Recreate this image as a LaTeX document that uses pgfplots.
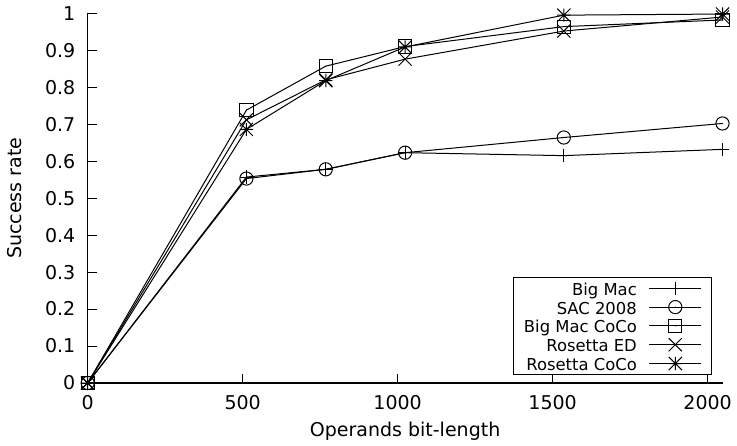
\documentclass[border=0pt]{standalone}
\usepackage{fontspec}
\setmainfont{DejaVu Sans}
\usepackage{pgfplots}
\pgfplotsset{compat=1.18}
\pgfdeclareplotmark{gpplus}{%
  \pgfpathmoveto{\pgfqpoint{-\pgfplotmarksize}{0pt}}\pgfpathlineto{\pgfqpoint{\pgfplotmarksize}{0pt}}%
  \pgfpathmoveto{\pgfqpoint{0pt}{-\pgfplotmarksize}}\pgfpathlineto{\pgfqpoint{0pt}{\pgfplotmarksize}}%
  \pgfusepathqstroke}
\pgfdeclareplotmark{gpcross}{%
  \pgfpathmoveto{\pgfqpoint{-\pgfplotmarksize}{-\pgfplotmarksize}}\pgfpathlineto{\pgfqpoint{\pgfplotmarksize}{\pgfplotmarksize}}%
  \pgfpathmoveto{\pgfqpoint{-\pgfplotmarksize}{\pgfplotmarksize}}\pgfpathlineto{\pgfqpoint{\pgfplotmarksize}{-\pgfplotmarksize}}%
  \pgfusepathqstroke}
\pgfdeclareplotmark{gpstar}{%
  \pgfpathmoveto{\pgfqpoint{-\pgfplotmarksize}{0pt}}\pgfpathlineto{\pgfqpoint{\pgfplotmarksize}{0pt}}%
  \pgfpathmoveto{\pgfqpoint{0pt}{-\pgfplotmarksize}}\pgfpathlineto{\pgfqpoint{0pt}{\pgfplotmarksize}}%
  \pgfpathmoveto{\pgfqpoint{-\pgfplotmarksize}{-\pgfplotmarksize}}\pgfpathlineto{\pgfqpoint{\pgfplotmarksize}{\pgfplotmarksize}}%
  \pgfpathmoveto{\pgfqpoint{-\pgfplotmarksize}{\pgfplotmarksize}}\pgfpathlineto{\pgfqpoint{\pgfplotmarksize}{-\pgfplotmarksize}}%
  \pgfusepathqstroke}
\pgfdeclareplotmark{gpcircle}{%
  \pgfpathcircle{\pgfpointorigin}{\pgfplotmarksize}\pgfusepathqstroke
  \pgfpathcircle{\pgfpointorigin}{0.3pt}\pgfusepathqfill}
\pgfdeclareplotmark{gpsquare}{%
  \pgfpathrectangle{\pgfqpoint{-\pgfplotmarksize}{-\pgfplotmarksize}}{\pgfqpoint{2\pgfplotmarksize}{2\pgfplotmarksize}}\pgfusepathqstroke
  \pgfpathcircle{\pgfpointorigin}{0.3pt}\pgfusepathqfill}
\begin{document}
\begin{tikzpicture}
\begin{axis}[
  scale only axis,
  width=317.4pt, height=184.85pt,
  xmin=0, xmax=2048, ymin=0, ymax=1,
  axis lines*=left,
  axis line style={line width=0.6pt},
  clip=false,
  tick align=inside,
  major tick length=4.5pt,
  tick style={line width=0.5pt, black},
  xtick={0,500,1000,1500,2000},
  xticklabels={0,500,1000,1500,2000},
  ytick={0,0.1,0.2,0.3,0.4,0.5,0.6,0.7,0.8,0.9,1},
  yticklabels={0,0.1,0.2,0.3,0.4,0.5,0.6,0.7,0.8,0.9,1},
  /pgf/number format/assume math mode=true,
  ticklabel style={font=\fontsize{9.5}{11}\selectfont},
  xticklabel style={yshift=-2.8pt},
  yticklabel style={xshift=-2.7pt},
  xlabel={Operands bit-length},
  ylabel={Success rate},
  label style={font=\fontsize{9.5}{11}\selectfont},
  xlabel style={at={(axis description cs:0.5,-0.146)}, anchor=base},
  ylabel style={at={(axis description cs:-0.104,0.5)}, anchor=base, rotate=0},
  every axis plot/.append style={black, line width=0.5pt, mark size=3.3pt, mark options={solid}},
  legend plot pos=right,
  legend cell align=right,
  legend image code/.code={\draw[mark repeat=2,mark phase=2,#1] plot coordinates {(0pt,0.5pt) (13pt,0.5pt) (26pt,0.5pt)};},
  legend style={at={(axis description cs:1,0)}, anchor=south east, xshift=-5.1pt, yshift=4pt,
    font=\fontsize{8.2}{10}\selectfont, draw=black, line width=0.5pt,
    inner xsep=5pt, inner ysep=2pt, row sep=2.6pt, column sep=6pt,
    nodes={inner sep=0pt, text height=6pt, text depth=0pt}},
]
\addplot[mark=gpplus] coordinates {(0,0) (512,0.557) (768,0.578) (1024,0.623) (1536,0.615) (2048,0.632)};
\addlegendentry{Big Mac}
\addplot[mark=gpcircle] coordinates {(0,0) (512,0.553) (768,0.578) (1024,0.623) (1536,0.664) (2048,0.702)};
\addlegendentry{SAC 2008}
\addplot[mark=gpsquare] coordinates {(0,0) (512,0.738) (768,0.857) (1024,0.910) (1536,0.964) (2048,0.982)};
\addlegendentry{Big Mac CoCo}
\addplot[mark=gpcross] coordinates {(0,0) (512,0.712) (768,0.820) (1024,0.876) (1536,0.952) (2048,0.990)};
\addlegendentry{Rosetta ED}
\addplot[mark=gpstar] coordinates {(0,0) (512,0.686) (768,0.818) (1024,0.909) (1536,0.995) (2048,0.998)};
\addlegendentry{Rosetta CoCo}
\coordinate (SW) at (rel axis cs:0,0);
\coordinate (NE) at (rel axis cs:1,1);
\end{axis}
\pgfresetboundingbox
\path ([shift={(-43.85pt,-31pt)}]SW) rectangle ([shift={(7.25pt,6.65pt)}]NE);
\end{tikzpicture}
\end{document}
